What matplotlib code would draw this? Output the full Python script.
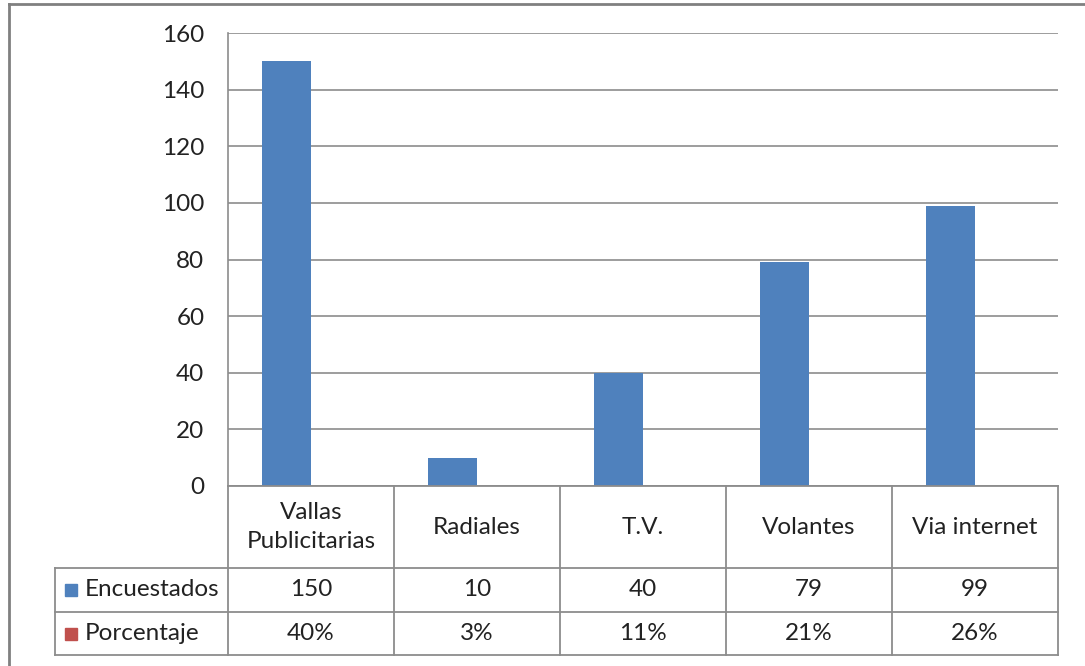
import matplotlib
matplotlib.use("Agg")
import matplotlib.pyplot as plt
from matplotlib.lines import Line2D
from matplotlib.patches import Rectangle

categories = ["Vallas\nPublicitarias", "Radiales", "T.V.", "Volantes", "Via internet"]
encuestados = [150, 10, 40, 79, 99]
porcentaje = [40, 3, 11, 21, 26]
series_names = ["Encuestados", "Porcentaje"]
series_colors = ["#4f81bd", "#c0504d"]
yticks = [0, 20, 40, 60, 80, 100, 120, 140, 160]

W, H = 1085, 666
FONT = "Lato"
FS = 17.5
GRID = "#8c8c8c"

fig = plt.figure(figsize=(W / 100, H / 100), dpi=100)
fig.patch.set_facecolor("white")

# plot area in pixel layout
px_left, px_right, px_top, px_bottom = 228, 1058, 33, 486
ax = fig.add_axes([px_left / W, 1 - px_bottom / H,
                   (px_right - px_left) / W, (px_bottom - px_top) / H])

n = len(categories)
xs = list(range(n))
bar_w = 49 / 166
ax.bar([x - bar_w / 2 for x in xs], encuestados, width=bar_w,
       color=series_colors[0], zorder=3)
ax.set_xlim(-0.5, n - 0.5)
ax.set_ylim(0, 160)
ax.set_yticks(yticks)
ax.set_yticklabels([str(t) for t in yticks], fontfamily=FONT, fontsize=FS,
                   color="#222222")
ax.tick_params(axis="y", length=0, pad=17)
ax.set_xticks([])
ax.grid(axis="y", color=GRID, linewidth=1.2, zorder=0)
for s in ["top", "right", "bottom"]:
    ax.spines[s].set_visible(False)
ax.spines["left"].set_color(GRID)
ax.spines["left"].set_linewidth(1.2)

# data table below the plot area
ov = fig.add_axes([0, 0, 1, 1])
ov.set_xlim(0, W)
ov.set_ylim(H, 0)
ov.axis("off")
ov.patch.set_alpha(0)

col_w = (px_right - px_left) / n
col_edges = [px_left + i * col_w for i in range(n + 1)]
row_edges = [486, 568, 612, 655]
tbl_left = 55

def hline(x0, x1, y):
    ov.add_line(Line2D([x0, x1], [y, y], color=GRID, linewidth=1.3))

def vline(x, y0, y1):
    ov.add_line(Line2D([x, x], [y0, y1], color=GRID, linewidth=1.3))

hline(px_left, px_right, row_edges[0])
for y in row_edges[1:]:
    hline(tbl_left, px_right, y)
for x in col_edges:
    vline(x, row_edges[0], row_edges[-1])
vline(tbl_left, row_edges[1], row_edges[-1])

txt = dict(fontfamily=FONT, fontsize=FS, color="#222222")
for i, cat in enumerate(categories):
    cx = (col_edges[i] + col_edges[i + 1]) / 2
    ov.text(cx, (row_edges[0] + row_edges[1]) / 2, cat, ha="center",
            va="center", linespacing=1.5, **txt)
    ov.text(cx, (row_edges[1] + row_edges[2]) / 2, str(encuestados[i]),
            ha="center", va="center", **txt)
    ov.text(cx, (row_edges[2] + row_edges[3]) / 2, f"{porcentaje[i]}%",
            ha="center", va="center", **txt)

for r, (name, col) in enumerate(zip(series_names, series_colors)):
    cy = (row_edges[r + 1] + row_edges[r + 2]) / 2
    ov.add_patch(Rectangle((65, cy - 6), 12, 12, color=col))
    ov.text(85, cy, name, ha="left", va="center", **txt)

# chart frame
ov.add_line(Line2D([9, W], [4, 4], color="#808080", linewidth=2))
ov.add_line(Line2D([9, 9], [4, H], color="#808080", linewidth=2))

fig.savefig("out.png", dpi=100, facecolor="white")
